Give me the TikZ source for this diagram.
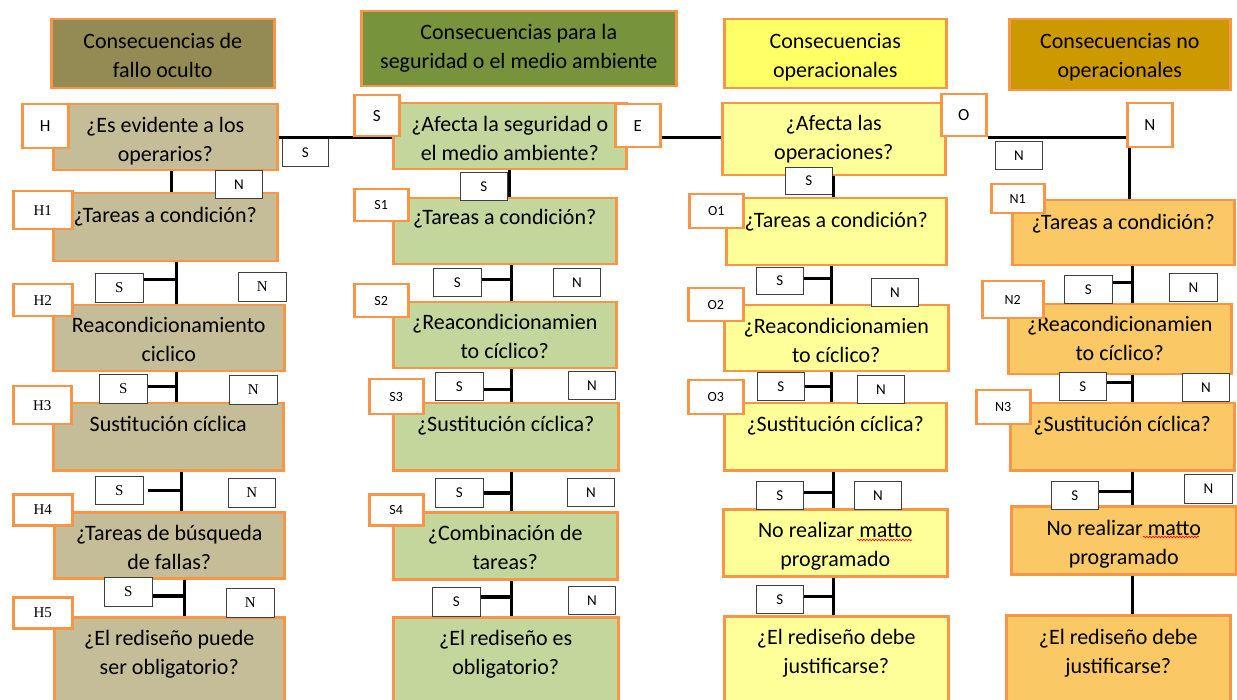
\documentclass[tikz,border=0pt]{standalone}
\usepackage{fontspec}
\setmainfont{Carlito}
\newfontfamily\tagserif{Liberation Serif}
\usepackage{xcolor}
\usetikzlibrary{decorations.pathmorphing}
\definecolor{Rim}{HTML}{F79646}
\definecolor{Hidden}{HTML}{948A54}
\definecolor{Hidden Box}{HTML}{C4BD97}
\definecolor{Safety}{HTML}{77933C}
\definecolor{Safety Box}{HTML}{C3D69B}
\definecolor{Operational}{HTML}{FFFF66}
\definecolor{Operational Box}{HTML}{FFFF99}
\definecolor{Nonoperational}{HTML}{CC9900}
\definecolor{Nonoperational Box}{HTML}{FAC864}

\tikzset{
  sz/.style 2 args={minimum width=#1pt, minimum height=#2pt},
  box/.style={draw=Rim, line width=2.5pt, anchor=north west, inner sep=0pt},
  says/.style={anchor=north, align=center, inner sep=0pt, font=\fontsize{22}{29}\selectfont, execute at begin node={\strut}},
  tag/.style={draw=Rim, line width=2.5pt, fill=white, anchor=north west, inner sep=0pt, font=\fontsize{17}{17}\selectfont},
  stag/.style={tag, font=\tagserif\fontsize{15}{15}\selectfont},
  ntag/.style={tag, font=\fontsize{14}{14}\selectfont},
  yn/.style={draw=black!75, line width=0.8pt, fill=white, anchor=north west, inner sep=0pt, font=\fontsize{15}{15}\selectfont},
  serifyn/.style={yn, font=\tagserif\fontsize{15}{15}\selectfont},
  link/.style={line width=3.2pt, black},
  squiggle/.style={red, line width=0.6pt, decorate, decoration={snake, amplitude=0.9pt, segment length=3pt}},
}

\begin{document}
\begin{tikzpicture}[x=1pt, y=-1pt]
\useasboundingbox (0,0) rectangle (1237,700);

% Headers
\node[box, fill=Hidden, sz={223}{69}] (hh) at (50,18) {};
\node[box, fill=Safety, sz={315}{75}] (sh) at (360,10) {};
\node[box, fill=Operational, sz={222}{69}] (oh) at (723,18) {};
\node[box, fill=Nonoperational, sz={221}{71}] (nh) at (1008,18) {};
\node[says] (hht) at ([yshift=-15pt]hh.north) {Consecuencias de\\fallo oculto};
\node[says] (sht) at ([yshift=-14pt]sh.north) {Consecuencias para la\\seguridad o el medio ambiente};
\node[says] (oht) at ([yshift=-15pt]oh.north) {Consecuencias\\operacionales};
\node[says] (nht) at ([yshift=-15pt]nh.north) {Consecuencias no\\operacionales};

% First questions
\node[box, fill=Hidden Box, sz={224}{66}] (hq) at (52,103) {};
\node[box, fill=Safety Box, sz={233}{66}] (sq) at (392,102) {};
\node[box, fill=Operational Box, sz={223}{72}] (oq) at (721,102) {};
\node[says] (hqt) at ([yshift=-14pt]hq.north) {¿Es evidente a los\\operarios?};
\node[says] (sqt) at ([yshift=-14pt]sq.north) {¿Afecta la seguridad o\\el medio ambiente?};
\node[says] (oqt) at ([yshift=-13pt]oq.north) {¿Afecta las\\operaciones?};

% Hidden column
\node[box, fill=Hidden Box, sz={224}{68}] (h1) at (52,192) {};
\node[box, fill=Hidden Box, sz={231}{66}] (h2) at (52,304) {};
\node[box, fill=Hidden Box, sz={230}{67}] (h3) at (52,402) {};
\node[box, fill=Hidden Box, sz={230}{66}] (h4) at (53,511) {};
\node[box, fill=Hidden Box, sz={230}{104}] (h5) at (53,616) {};
\node[says] (h1t) at ([yshift=-10pt]h1.north) {¿Tareas a condición?};
\node[says] (h2t) at ([yshift=-13pt]h2.north) {Reacondicionamiento\\ciclico};
\node[says] (h3t) at ([yshift=-9pt]h3.north) {Sustitución cíclica};
\node[says] (h4t) at ([yshift=-14pt]h4.north) {¿Tareas de búsqueda\\de fallas?};
\node[says] (h5t) at ([yshift=-14pt]h5.north) {¿El rediseño puede\\ser obligatorio?};

% Safety column
\node[box, fill=Safety Box, sz={223}{66}] (s1) at (392,197) {};
\node[box, fill=Safety Box, sz={223}{66}] (s2) at (392,301) {};
\node[box, fill=Safety Box, sz={225}{67}] (s3) at (392,402) {};
\node[box, fill=Safety Box, sz={224}{67}] (s4) at (392,511) {};
\node[box, fill=Safety Box, sz={225}{104}] (s5) at (392,616) {};
\node[says] (s1t) at ([yshift=-7pt]s1.north) {¿Tareas a condición?};
\node[says] (s2t) at ([yshift=-13pt]s2.north) {¿Reacondicionamien\\to cíclico?};
\node[says] (s3t) at ([yshift=-9pt]s3.north) {¿Sustitución cíclica?};
\node[says] (s4t) at ([yshift=-14pt]s4.north) {¿Combinación de\\tareas?};
\node[says] (s5t) at ([yshift=-14pt]s5.north) {¿El rediseño es\\obligatorio?};

% Operational column
\node[box, fill=Operational Box, sz={220}{67}] (o1) at (725,197) {};
\node[box, fill=Operational Box, sz={224}{66}] (o2) at (723,304) {};
\node[box, fill=Operational Box, sz={222}{67}] (o3) at (723,402) {};
\node[box, fill=Operational Box, sz={224}{67}] (o4) at (722,508) {};
\node[box, fill=Operational Box, sz={224}{105}] (o5) at (723,615) {};
\node[says] (o1t) at ([yshift=-10pt]o1.north) {¿Tareas a condición?};
\node[says] (o2t) at ([yshift=-14pt]o2.north) {¿Reacondicionamien\\to cíclico?};
\node[says] (o3t) at ([yshift=-9pt]o3.north) {¿Sustitución cíclica?};
\node[says] (o4t) at ([yshift=-14pt]o4.north) {No realizar matto\\programado};
\node[says] (o5t) at ([yshift=-14pt]o5.north) {¿El rediseño debe\\justificarse?};
\draw[squiggle] ([shift={(135pt,-32pt)}]o4.north west) -- ++(55pt,0pt);

% Non-operational column
\node[box, fill=Nonoperational Box, sz={222}{65}] (n1) at (1011,199) {};
\node[box, fill=Nonoperational Box, sz={223}{70}] (n2) at (1007,303) {};
\node[box, fill=Nonoperational Box, sz={224}{67}] (n3) at (1009,402) {};
\node[box, fill=Nonoperational Box, sz={225}{68}] (n4) at (1010,505) {};
\node[box, fill=Nonoperational Box, sz={224}{106}] (n5) at (1005,614) {};
\node[says] (n1t) at ([yshift=-10pt]n1.north) {¿Tareas a condición?};
\node[says] (n2t) at ([yshift=-13pt]n2.north) {¿Reacondicionamien\\to cíclico?};
\node[says] (n3t) at ([yshift=-9pt]n3.north) {¿Sustitución cíclica?};
\node[says] (n4t) at ([yshift=-15pt]n4.north) {No realizar matto\\programado};
\node[says] (n5t) at ([yshift=-15pt]n5.north) {¿El rediseño debe\\justificarse?};
\draw[squiggle] ([shift={(133pt,-32pt)}]n4.north west) -- ++(56pt,0pt);

% S / N answers
\node[yn, sz={46}{28}] (hs0) at (282,138) {S};
\node[yn, sz={47}{28}] (hn0) at (215,170) {N};
\node[yn, sz={47}{28}] (ss0) at (460,172) {S};
\node[yn, sz={47}{27}] (os0) at (785,167) {S};
\node[yn, sz={47}{28}] (on0) at (995,141) {N};

\node[serifyn, sz={48}{29}] (hs1) at (95,273) {S};
\node[serifyn, sz={48}{29}] (hn1) at (238,272) {N};
\node[serifyn, sz={48}{29}] (hs2) at (99,374) {S};
\node[serifyn, sz={48}{29}] (hn2) at (229,375) {N};
\node[serifyn, sz={48}{28}] (hs3) at (95,476) {S};
\node[serifyn, sz={47}{29}] (hn3) at (228,478) {N};
\node[serifyn, sz={48}{29}] (hs4) at (104,577) {S};
\node[serifyn, sz={48}{29}] (hn4) at (226,588) {N};

\node[yn, sz={48}{28}] (ss1) at (433,268) {S};
\node[yn, sz={47}{28}] (sn1) at (553,268) {N};
\node[yn, sz={48}{28}] (ss2) at (435,372) {S};
\node[yn, sz={47}{28}] (sn2) at (568,371) {N};
\node[yn, sz={48}{29}] (ss3) at (435,478) {S};
\node[yn, sz={47}{28}] (sn3) at (567,478) {N};
\node[yn, sz={48}{29}] (ss4) at (432,587) {S};
\node[yn, sz={47}{28}] (sn4) at (568,586) {N};

\node[yn, sz={47}{27}] (os1) at (756,267) {S};
\node[yn, sz={47}{28}] (on1) at (871,278) {N};
\node[yn, sz={47}{28}] (os2) at (757,372) {S};
\node[yn, sz={47}{28}] (on2) at (857,375) {N};
\node[yn, sz={47}{28}] (os3) at (756,481) {S};
\node[yn, sz={47}{28}] (on3) at (854,481) {N};
\node[yn, sz={47}{28}] (os4) at (756,585) {S};

\node[yn, sz={48}{28}] (ns1) at (1064,275) {S};
\node[yn, sz={48}{28}] (nn1) at (1169,273) {N};
\node[yn, sz={47}{28}] (ns2) at (1059,372) {S};
\node[yn, sz={47}{28}] (nn2) at (1182,373) {N};
\node[yn, sz={47}{28}] (ns3) at (1051,481) {S};
\node[yn, sz={48}{29}] (nn3) at (1184,474) {N};

% Rail
\draw[link] (hq.east) -- (hq.east -| sq.west);

% Hidden spine
\draw[link] ([xshift=6pt]hq.south) -- ([xshift=6pt]hq.south |- h1.north);
\coordinate (hk1) at ([xshift=11pt]h1.south);
\coordinate (hk2) at ([xshift=7.5pt]h2.south);
\coordinate (hk3) at ([xshift=13pt]h3.south);
\coordinate (hk4) at ([xshift=15pt]h4.south);
\draw[link] (hk1) -- (hk1 |- h2.north);
\draw[link] (hk2) -- (hk2 |- h3.north);
\draw[link] (hk3) -- (hk3 |- h4.north);
\draw[link] (hk4) -- (hk4 |- h5.north);
\draw[link] ([yshift=8pt]hs1.east) -- ([yshift=8pt]hs1.east -| hk1);
\draw[link] ([yshift=2pt]hs2.east) -- ([yshift=2pt]hs2.east -| hk2);
\draw[link] ([xshift=4pt]hs3.east) -- (hs3.east -| hk3);
\draw[link] ([yshift=-4pt]hs4.east) -- ([yshift=-4pt]hs4.east -| hk4);

% Safety spine
\draw[link] (sq.south) -- (sq.south |- s1.north);
\coordinate (sk1) at ([xshift=6.5pt]s1.south);
\coordinate (sk2) at ([xshift=6.5pt]s2.south);
\coordinate (sk3) at ([xshift=5.5pt]s3.south);
\coordinate (sk4) at ([xshift=6pt]s4.south);
\draw[link] (sk1) -- (sk1 |- s2.north);
\draw[link] (sk2) -- (sk2 |- s3.north);
\draw[link] (sk3) -- (sk3 |- s4.north);
\draw[link] (sk4) -- (sk4 |- s5.north);
\draw[link] ([yshift=3pt]ss1.east) -- ([yshift=3pt]ss1.east -| sk1);
\draw[link] ([yshift=-3pt]ss2.east) -- ([yshift=-3pt]ss2.east -| sk2);
\draw[link] (ss3.east) -- (ss3.east -| sk3);
\draw[link] ([yshift=5pt]ss4.east) -- ([yshift=5pt]ss4.east -| sk4);

% Operational spine
\draw[link] (oq.south) -- (oq.south |- o1.north);
\coordinate (ok1) at ([xshift=-5pt]o1.south);
\coordinate (ok2) at ([xshift=-5pt]o2.south);
\coordinate (ok3) at ([xshift=-2pt]o3.south);
\coordinate (ok4) at ([xshift=-2pt]o4.south);
\draw[link] (ok1) -- (ok1 |- o2.north);
\draw[link] (ok2) -- (ok2 |- o3.north);
\draw[link] (ok3) -- (ok3 |- o4.north);
\draw[link] (ok4) -- (ok4 |- o5.north);
\draw[link] ([yshift=2pt]os1.east) -- ([yshift=2pt]os1.east -| ok1);
\draw[link] (os2.east) -- (os2.east -| ok2);
\draw[link] ([yshift=3pt]os3.east) -- ([yshift=3pt]os3.east -| ok3);
\draw[link] ([yshift=3pt]os4.east) -- ([yshift=3pt]os4.east -| ok4);

% Non-operational spine
\coordinate (nk1) at ([xshift=9pt]n1.south);
\coordinate (nk2) at ([xshift=12.5pt]n2.south);
\coordinate (nk3) at ([xshift=10pt]n3.south);
\coordinate (nk4) at ([xshift=8.5pt]n4.south);
\draw[link] (nk1) -- (nk1 |- n2.north);
\draw[link] (nk2) -- (nk2 |- n3.north);
\draw[link] (nk3) -- (nk3 |- n4.north);
\draw[link] (nk4) -- (nk4 |- n5.north);
\draw[link] ([yshift=7pt]ns1.east) -- ([yshift=7pt]ns1.east -| nk1);
\draw[link] ([yshift=4pt]ns2.east) -- ([yshift=4pt]ns2.east -| nk2);
\draw[link] ([yshift=4pt]ns3.east) -- ([yshift=4pt]ns3.east -| nk3);

% Tags
\node[tag, sz={46}{44}] (hl) at (21,103) {H};
\node[tag, sz={45}{41}] (sl) at (353,94) {S};
\node[tag, sz={45}{43}] (el) at (614,103) {E};
\node[tag, sz={45}{42}] (ol) at (940,93) {O};

\draw[link] (el.east |- hq.east) -- (oq.west |- hq.east);
\draw[link] (ol.east |- hq.east) -- ([xshift=6pt]n1.north |- hq.east) -- ([xshift=6pt]n1.north);
\node[tag, sz={45}{44}] (nl) at (1126,102) {N};

\node[stag, sz={59}{38}] (h1l) at (12,190) {H1};
\node[stag, sz={59}{32}] (h2l) at (12,283) {H2};
\node[stag, sz={58}{38}] (h3l) at (12,385) {H3};
\node[stag, sz={59}{31}] (h4l) at (12,493) {H4};
\node[stag, sz={59}{31}] (h5l) at (12,596) {H5};

\node[ntag, sz={54}{32}] (s1l) at (353,188) {S1};
\node[ntag, sz={54}{33}] (s2l) at (353,283) {S2};
\node[ntag, sz={54}{35}] (s3l) at (368,378) {S3};
\node[ntag, sz={54}{31}] (s4l) at (368,493) {S4};

\node[ntag, sz={54}{34}] (o1l) at (688,193) {O1};
\node[ntag, sz={55}{33}] (o2l) at (687,287) {O2};
\node[ntag, sz={55}{34}] (o3l) at (687,379) {O3};

\node[ntag, sz={53}{29}] (n1l) at (990,183) {N1};
\node[ntag, sz={61}{37}] (n2l) at (981,280) {N2};
\node[ntag, sz={54}{34}] (n3l) at (975,389) {N3};

\end{tikzpicture}
\end{document}
